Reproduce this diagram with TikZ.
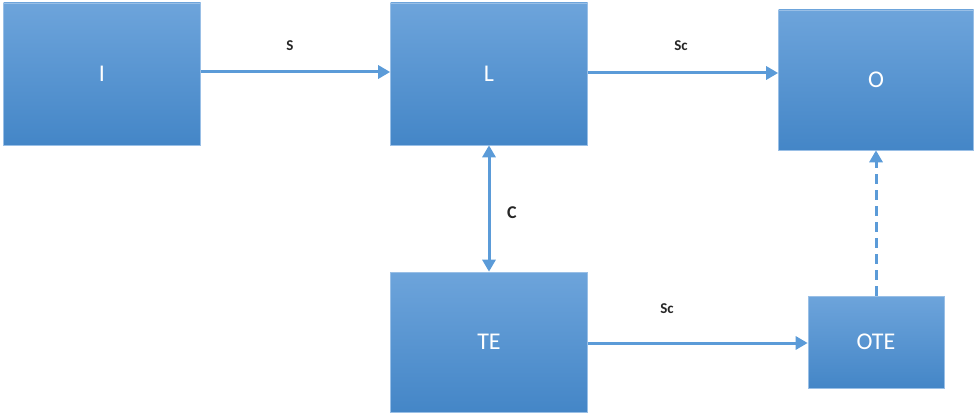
\documentclass[tikz,border=0pt]{standalone}
\usepackage{fontspec}
\setmainfont{Carlito}
\usetikzlibrary{arrows.meta}
\definecolor{boxtop}{HTML}{6DA4DB}
\definecolor{boxbot}{HTML}{4486C7}
\definecolor{linkblue}{HTML}{5B9BD8}
\begin{document}
\begin{tikzpicture}[x=1pt,y=-1pt,
  block/.style={rectangle, inner sep=0pt, top color=boxtop, bottom color=boxbot,
    draw=boxtop!70!white, line width=0.6pt, text=white, font=\fontsize{24}{28}\selectfont},
  link/.style={draw=linkblue, line width=3pt,
    -{Triangle[length=12pt,width=13pt]}},
  lbl/.style={font=\fontsize{15}{18}\selectfont\bfseries, text=black!85}
]
\useasboundingbox (0,0) rectangle (975,417);

\node[block, minimum width=197pt, minimum height=142pt] (I)   at (102,74)  {I};
\node[block, minimum width=197pt, minimum height=142pt] (L)   at (489,74)  {L};
\node[block, minimum width=195pt, minimum height=140pt] (O)   at (876,80)  {O};
\node[block, minimum width=197pt, minimum height=140pt] (TE)  at (489,342) {TE};
\node[block, minimum width=136pt, minimum height=92pt]  (OTE) at (876,342) {OTE};

\draw[link] (I.east |- 0,72) -- (L.west |- 0,72);
\draw[link] (L.east |- 0,73) -- (O.west |- 0,73);
\draw[link] (TE.east |- 0,343) -- (OTE.west |- 0,343);
\draw[link, {Triangle[length=12pt,width=13pt]}-{Triangle[length=12pt,width=13pt]}] (L.south) -- (TE.north);
\draw[link, dash pattern=on 10pt off 6pt] (OTE.north) -- (O.south);

\node[lbl] (s)   at (290,46)  {S};
\node[lbl] (sc1) at (681,46)  {Sc};
\node[lbl] (sc2) at (667,309) {Sc};
\node[lbl, font=\fontsize{18}{20}\selectfont\bfseries] (c) at (512,213) {C};
\end{tikzpicture}
\end{document}
